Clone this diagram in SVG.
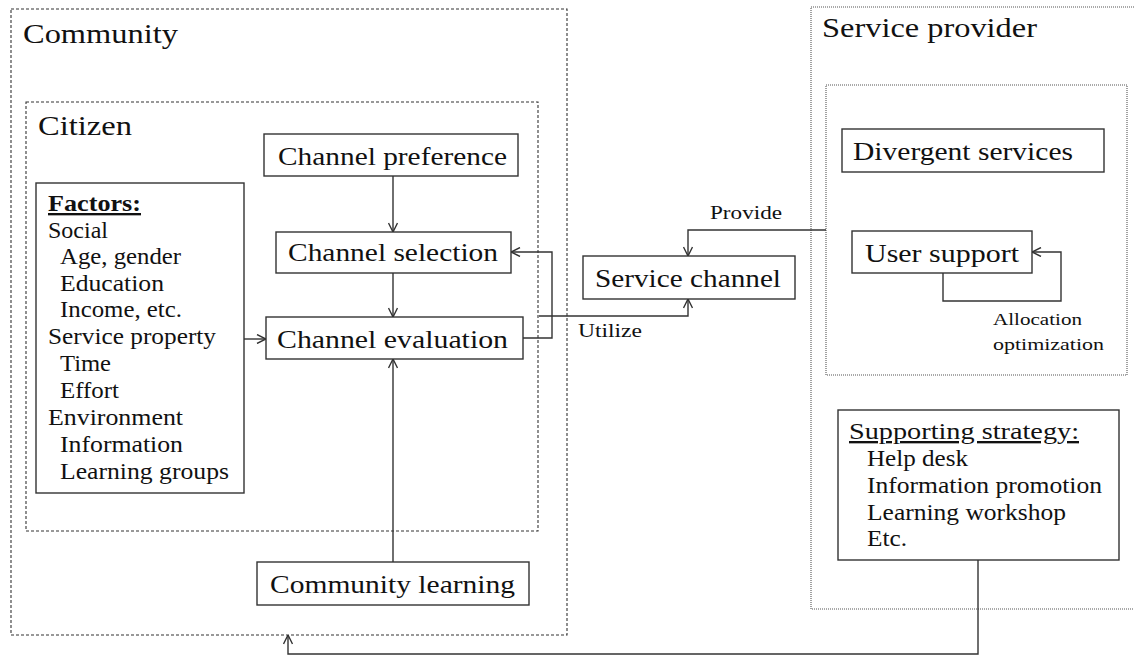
<svg xmlns="http://www.w3.org/2000/svg" width="1134" height="665" viewBox="0 0 1134 665">
<style>
text{font-family:"Liberation Serif",serif;fill:#111}
.box{fill:#fff;stroke:#333;stroke-width:1.4}
.dash{fill:none;stroke:#333;stroke-width:1.1;stroke-dasharray:3 2}
.dot{fill:none;stroke:#555;stroke-width:1.1;stroke-dasharray:1 1}
.lbl{font-size:26px}
.hd{font-size:28px}
.lst{font-size:23.5px}
.sm{font-size:19px}
.xs{font-size:17px}
.con{fill:none;stroke:#333;stroke-width:1.4}
</style>
<defs>
<marker id="arr" viewBox="0 0 10 10" refX="10" refY="5" markerWidth="10" markerHeight="10" markerUnits="userSpaceOnUse" orient="auto">
<path d="M1,0.5 L10,5 L1,9.5" fill="none" stroke="#333" stroke-width="1.4"/>
</marker>
</defs>
<rect width="1134" height="665" fill="#fff"/>
<g id="community">
<rect class="dash" x="11" y="9" width="556" height="626"/>
<text class="hd" x="23" y="43" textLength="155" lengthAdjust="spacingAndGlyphs">Community</text>
</g>
<g id="citizen">
<rect class="dash" x="26" y="102" width="512" height="429"/>
<text class="hd" x="38" y="135" textLength="94" lengthAdjust="spacingAndGlyphs">Citizen</text>
</g>
<g id="service-provider">
<rect class="dot" x="811" y="7" width="330" height="602"/>
<text class="hd" x="822" y="37" textLength="215" lengthAdjust="spacingAndGlyphs">Service provider</text>
</g>
<g id="provider-inner">
<rect class="dot" x="826" y="85" width="301" height="290"/>
</g>
<g id="channel-preference">
<rect class="box" x="264" y="134" width="254" height="42"/>
<text class="lbl" x="278" y="165" textLength="229" lengthAdjust="spacingAndGlyphs">Channel preference</text>
</g>
<g id="channel-selection">
<rect class="box" x="276" y="232" width="235" height="41"/>
<text class="lbl" x="288" y="261" textLength="210" lengthAdjust="spacingAndGlyphs">Channel selection</text>
</g>
<g id="channel-evaluation">
<rect class="box" x="266" y="317" width="257" height="42"/>
<text class="lbl" x="277" y="348" textLength="231" lengthAdjust="spacingAndGlyphs">Channel evaluation</text>
</g>
<g id="factors">
<rect class="box" x="36" y="183" width="208" height="310"/>
<text class="lst" x="48" y="211" font-weight="bold" text-decoration="underline" textLength="93" lengthAdjust="spacingAndGlyphs">Factors:</text>
<text class="lst" x="48" y="238" textLength="60" lengthAdjust="spacingAndGlyphs">Social</text>
<text class="lst" x="60" y="264" textLength="121" lengthAdjust="spacingAndGlyphs">Age, gender</text>
<text class="lst" x="60" y="291" textLength="104" lengthAdjust="spacingAndGlyphs">Education</text>
<text class="lst" x="60" y="317" textLength="122" lengthAdjust="spacingAndGlyphs">Income, etc.</text>
<text class="lst" x="48" y="344" textLength="168" lengthAdjust="spacingAndGlyphs">Service property</text>
<text class="lst" x="60" y="371" textLength="51" lengthAdjust="spacingAndGlyphs">Time</text>
<text class="lst" x="60" y="398" textLength="59" lengthAdjust="spacingAndGlyphs">Effort</text>
<text class="lst" x="48" y="425" textLength="135" lengthAdjust="spacingAndGlyphs">Environment</text>
<text class="lst" x="60" y="452" textLength="123" lengthAdjust="spacingAndGlyphs">Information</text>
<text class="lst" x="60" y="479" textLength="169" lengthAdjust="spacingAndGlyphs">Learning groups</text>
</g>
<g id="community-learning">
<rect class="box" x="257" y="562" width="272" height="43"/>
<text class="lbl" x="270" y="593" textLength="245" lengthAdjust="spacingAndGlyphs">Community learning</text>
</g>
<g id="service-channel">
<rect class="box" x="583" y="256" width="212" height="43"/>
<text class="lbl" x="595" y="287" textLength="186" lengthAdjust="spacingAndGlyphs">Service channel</text>
</g>
<g id="divergent-services">
<rect class="box" x="842" y="129" width="262" height="43"/>
<text class="lbl" x="853" y="160" textLength="220" lengthAdjust="spacingAndGlyphs">Divergent services</text>
</g>
<g id="user-support">
<rect class="box" x="852" y="231" width="180" height="42"/>
<text class="lbl" x="865" y="262" textLength="154" lengthAdjust="spacingAndGlyphs">User support</text>
</g>
<g id="supporting-strategy">
<rect class="box" x="838" y="410" width="281" height="150"/>
<text class="lst" x="849" y="439" text-decoration="underline" textLength="230" lengthAdjust="spacingAndGlyphs">Supporting strategy:</text>
<text class="lst" x="867" y="466" textLength="101" lengthAdjust="spacingAndGlyphs">Help desk</text>
<text class="lst" x="867" y="493" textLength="235" lengthAdjust="spacingAndGlyphs">Information promotion</text>
<text class="lst" x="867" y="520" textLength="199" lengthAdjust="spacingAndGlyphs">Learning workshop</text>
<text class="lst" x="867" y="546" textLength="40" lengthAdjust="spacingAndGlyphs">Etc.</text>
</g>
<g id="connectors">
<path class="con" d="M393,176 V232" marker-end="url(#arr)"/>
<path class="con" d="M393,273 V317" marker-end="url(#arr)"/>
<path class="con" d="M244,339 H266" marker-end="url(#arr)"/>
<path class="con" d="M393,562 V359" marker-end="url(#arr)"/>
<path class="con" d="M523,338 H552 V252 H511" marker-end="url(#arr)"/>
<path class="con" d="M539,316 H688 V299" marker-end="url(#arr)"/>
<path class="con" d="M826,230 H688 V256" marker-end="url(#arr)"/>
<path class="con" d="M943,273 V301 H1061 V252 H1032" marker-end="url(#arr)"/>
<path class="con" d="M978,560 V654 H288 V635" marker-end="url(#arr)"/>
<text class="sm" x="710" y="219" textLength="72" lengthAdjust="spacingAndGlyphs">Provide</text>
<text class="sm" x="578" y="337" textLength="64" lengthAdjust="spacingAndGlyphs">Utilize</text>
<text class="xs" x="993" y="325" textLength="89" lengthAdjust="spacingAndGlyphs">Allocation</text>
<text class="xs" x="993" y="350" textLength="111" lengthAdjust="spacingAndGlyphs">optimization</text>
</g>
</svg>
